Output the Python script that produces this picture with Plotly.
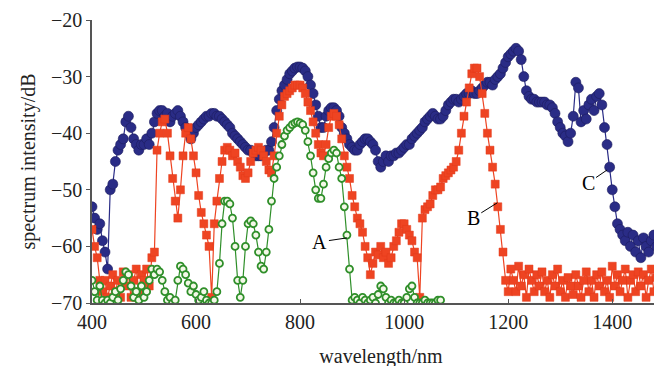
import plotly.graph_objects as go

wl_c = list(range(400, 1500, 5))
c_vals = [
    -53, -55, -57, -56, -59, -61, -64, -50, -49, -45, -43, -42, -41, -38, -37, -39, -41, -42, -43, -42,
    -42, -41, -42, -40, -38, -36.5, -36, -36, -37, -36.5, -38, -37, -36.5, -36, -37, -38, -39, -40, -41, -40,
    -39, -38.5, -38, -37.5, -37, -37, -36.5, -36.5, -37, -37, -37.5, -38, -38.5, -39, -40, -40.5, -41, -41.5, -42, -42.5,
    -43, -43, -43.5, -44, -44, -44, -43.5, -43, -43, -41.5, -39, -36, -34, -32.5, -31.5, -30.5, -29.5, -29, -28.5, -28.3,
    -28.3, -28.5, -29, -30, -31.5, -33, -35, -37, -39, -39, -37, -36, -35.5, -35.5, -36, -37, -39, -40, -41, -42,
    -42.5, -43, -43, -42, -41.5, -41, -41, -41.5, -42, -43, -45, -46, -45, -44, -45, -44, -44, -43.5, -43.5, -43,
    -42.5, -42, -42, -41, -40.5, -40, -39.5, -39, -38, -37.5, -37, -36.5, -37, -37.5, -37.5, -37, -36, -35, -34.5, -34,
    -34, -34.5, -34, -33.5, -33, -33, -32.5, -33, -33, -32.5, -32, -31.5, -31, -31, -31.5, -30.5, -30, -29.5, -28.5, -27.5,
    -26.5, -26, -25.5, -25, -25.5, -27, -30, -32.5, -33.5, -34, -34, -34.5, -34.5, -34.5, -34.5, -35, -35, -35.5, -36.5, -38,
    -39, -40, -40.5, -41.5, -40, -37, -31, -32, -38, -36, -37.5, -35, -34, -36, -33.5, -33, -35, -39, -42, -46,
    -50, -53, -56, -57, -58, -59, -57.5, -60, -58, -61, -59, -62, -58.5, -60, -61, -59, -58, -60, -59.5, -60,
]

wl_b = list(range(400, 1500, 5))
b_vals = [
    -57, -60, -62, -66, -68, -66, -69, -67, -65, -68, -66, -69, -64.5, -67, -65, -69, -66, -64, -68, -65,
    -66, -64, -67, -62, -61, -43, -40, -38, -37.5, -40, -44, -48, -52, -55, -50, -44, -40, -39, -41, -44,
    -47, -51, -54, -56, -58, -60, -69, -56, -52, -48, -45, -43, -42.5, -43, -44, -43.5, -45, -46, -47.5, -48,
    -47, -45, -43.5, -43, -42.5, -43, -44, -45, -46.5, -47, -44, -40, -37, -35, -33.5, -33, -32.5, -32, -31.5, -31.5,
    -31.5, -32, -33, -34.5, -36, -38, -40, -42, -43.5, -44, -42, -39, -37, -36.5, -37, -38.5, -41, -44, -46, -48,
    -51, -53, -55, -56, -57.5, -60, -62, -65, -63, -61, -61.5, -60, -62, -61, -63, -62, -60, -59, -57.5, -56,
    -56, -57, -58, -59, -61, -62, -69, -55, -53.5, -53, -52.5, -51, -50, -50, -49.5, -48, -47.5, -47, -46.5, -46,
    -45, -43, -40, -37, -34.5, -32, -29.5, -28.5, -28.5, -30, -33, -36.5, -40, -43, -46, -49, -53, -57, -61, -66,
    -68, -64, -66, -68, -63.5, -67, -65, -69, -64, -66, -68, -65, -67, -64.5, -68, -66, -69, -65, -67, -64,
    -68, -66, -69, -65.5, -67, -68.5, -65, -67, -69, -66, -64.5, -68, -66, -69, -65, -67, -64.5, -68, -66, -69,
    -63.5, -67, -65, -68, -66, -64, -69, -66, -65, -68, -64.5, -67, -65, -69, -66, -64, -68, -65.5, -67, -64,
]

wl_a = list(range(400, 1075, 5))
a_vals = [
    -66, -68, -69.5, -67, -69.5, -70, -69.5, -70, -69, -68, -69.5, -67.5, -66, -64.5, -65, -67, -69, -68, -69.5, -67,
    -69, -68, -66, -64, -65, -64, -64.5, -66, -68, -69.5, -69, -70, -69.5, -66, -63.5, -64, -65, -66.5, -68, -67,
    -68.5, -69.5, -69, -68, -69.5, -70, -70, -69.5, -68, -63, -56, -52, -52, -52.5, -55, -60, -66, -69, -66, -60,
    -56, -55.5, -56, -58, -61, -63.5, -64, -61, -57, -52, -48, -46, -44, -42, -40.5, -39.5, -39, -38.5, -38.2, -38,
    -38.2, -38.5, -39.5, -41.5, -44, -47, -50, -51.5, -51.5, -49, -46, -44.5, -43.5, -43, -43.5, -46, -48, -53, -58, -64,
    -69.5, -69, -69.5, -70, -69, -69.5, -70, -69.5, -69, -70, -68.5, -67, -67.5, -69, -70, -69.5, -70, -70, -69.5, -70,
    -70, -69, -67.5, -67, -69, -70, -70, -70, -69.5, -70, -70, -70, -70, -69.5, -69.5,
]

x_ticks = [400, 600, 800, 1000, 1200, 1400]
y_ticks = [-70, -60, -50, -40, -30, -20]

labels = ["A", "B", "C"]
label_pts = [(890, -58.5), (1179, -52.3), (1390, -46.5)]
label_offsets = [(-27, 4), (-24, 15), (-19, 13)]

serif = "Liberation Serif, Times New Roman, serif"

fig = go.Figure()
fig.add_trace(go.Scatter(
    x=wl_c, y=c_vals, mode="lines+markers",
    line=dict(color="#2a2c86", width=1.2),
    marker=dict(symbol="circle", size=10, color="#2a2c86", line=dict(color="#1c1c5e", width=0.6)),
    showlegend=False))
fig.add_trace(go.Scatter(
    x=wl_b, y=b_vals, mode="lines+markers",
    line=dict(color="#ee4422", width=1.2),
    marker=dict(symbol="square", size=8, color="#ee4422", line=dict(color="#e23a1a", width=0.5)),
    showlegend=False))
fig.add_trace(go.Scatter(
    x=wl_a, y=a_vals, mode="lines+markers",
    line=dict(color="#2f8f2a", width=1.2),
    marker=dict(symbol="circle", size=7, color="#f4f8e8", line=dict(color="#2f8f2a", width=1.8)),
    showlegend=False))

for lab, (px, py), (ax, ay) in zip(labels, label_pts, label_offsets):
    fig.add_annotation(x=px, y=py, text=lab, showarrow=True, arrowhead=0, arrowwidth=1,
                       arrowcolor="black", ax=ax, ay=ay, standoff=0,
                       font=dict(family=serif, size=20, color="black"))

# page body has an 8px default margin, so the figure is laid out 8px in from top-left
fig.update_layout(
    width=662, height=366,
    margin=dict(l=84, r=0, t=12, b=71),
    plot_bgcolor="white", paper_bgcolor="white",
    font=dict(family=serif, size=20, color="#222"),
)
fig.update_xaxes(
    range=[400, 1511], tickvals=x_ticks, showgrid=False, zeroline=False, automargin=False,
    showline=True, linecolor="#555", linewidth=1.5, ticks="inside", ticklen=4, tickcolor="#555",
    title=dict(text="wavelength/nm", font=dict(family=serif, size=20), standoff=17),
    tickfont=dict(family=serif, size=20),
)
fig.update_yaxes(
    range=[-70, -20], tickvals=y_ticks, showgrid=False, zeroline=False, automargin=False,
    showline=True, linecolor="#555", linewidth=1.5, ticks="outside", ticklen=4, tickcolor="#555",
    title=dict(text="spectrum intensity/dB", font=dict(family=serif, size=20), standoff=10),
    tickfont=dict(family=serif, size=20),
)

fig.write_html("out.html")
